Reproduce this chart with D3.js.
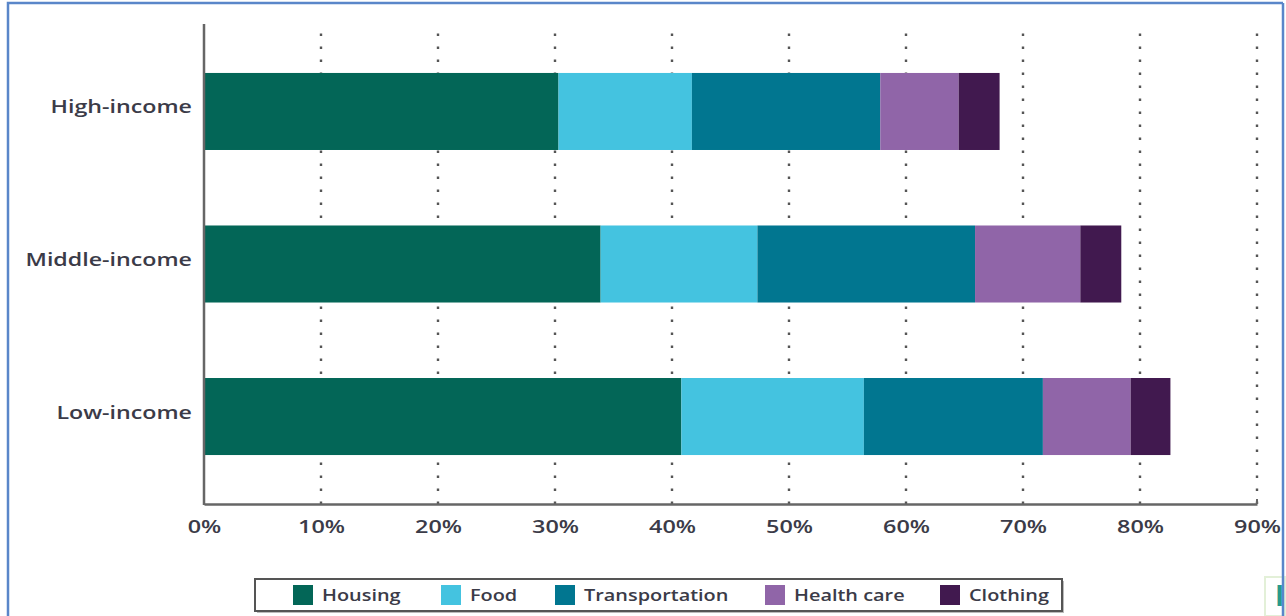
<!DOCTYPE html>
<html>
<head>
<meta charset="utf-8">
<script src="https://cdn.jsdelivr.net/npm/d3@7"></script>
<style>
  html, body { margin: 0; padding: 0; background: #fff; }
  svg { display: block; }
  text { font-family: "Open Sans", "DejaVu Sans", sans-serif; fill: #3b3b48; }
</style>
</head>
<body>
<svg id="chart" width="1286" height="616"></svg>
<script>
// Share of spending by income group (percent of income)
const groups = ["High-income", "Middle-income", "Low-income"];
const categories = ["Housing", "Food", "Transportation", "Health care", "Clothing"];
const housing        = [30.3, 33.9, 40.8];
const food           = [11.4, 13.4, 15.6];
const transportation = [16.1, 18.6, 15.3];
const healthCare     = [6.7, 9.0, 7.5];
const clothing       = [3.5, 3.5, 3.4];
const tickValues = [0, 10, 20, 30, 40, 50, 60, 70, 80, 90];
const tickLabels = ["0%", "10%", "20%", "30%", "40%", "50%", "60%", "70%", "80%", "90%"];
const colors = ["#036657", "#44c3e0", "#017690", "#9065a8", "#41194f"];

const rows = groups.map((g, i) => ({
  group: g,
  "Housing": housing[i],
  "Food": food[i],
  "Transportation": transportation[i],
  "Health care": healthCare[i],
  "Clothing": clothing[i]
}));

const svg = d3.select("#chart");
const plotLeft = 204, plotRight = 1257, plotTop = 24, plotBottom = 504;

const x = d3.scaleLinear().domain([0, 90]).range([plotLeft, plotRight]);
const y = d3.scaleBand().domain(groups).range([plotTop, plotBottom])
  .paddingInner(0.495).paddingOuter(0.321);
const color = d3.scaleOrdinal().domain(categories).range(colors);

// outer frame
svg.append("path")
  .attr("d", "M8,616 L8,3 L1283,3")
  .attr("fill", "none").attr("stroke", "#5a86c9").attr("stroke-width", 2.5);

// dotted vertical gridlines
svg.append("g").selectAll("line")
  .data(tickValues.filter(v => v > 0))
  .join("line")
  .attr("x1", d => x(d)).attr("x2", d => x(d))
  .attr("y1", plotBottom).attr("y2", plotTop)
  .attr("stroke", "#555").attr("stroke-width", 2.4)
  .attr("stroke-dasharray", "2.5,10.5");

// stacked bars
const series = d3.stack().keys(categories)(rows);
svg.append("g").selectAll("g")
  .data(series)
  .join("g")
  .attr("fill", d => color(d.key))
  .selectAll("rect")
  .data(d => d)
  .join("rect")
  .attr("x", d => x(d[0]))
  .attr("width", d => x(d[1]) - x(d[0]))
  .attr("y", d => y(d.data.group))
  .attr("height", y.bandwidth());

// x axis
const xAxis = svg.append("g")
  .attr("transform", `translate(0,${plotBottom})`)
  .call(d3.axisBottom(x).tickValues(tickValues)
    .tickFormat((d, i) => tickLabels[i]).tickSize(0).tickSizeOuter(0).tickPadding(0));
xAxis.select(".domain").attr("stroke", "#666").attr("stroke-width", 2.5);
xAxis.selectAll(".tick text")
  .attr("y", 0).attr("dy", null)
  .attr("transform", "translate(0,29) scale(1.3,1)")
  .attr("font-size", 18).attr("font-weight", 600)
  .attr("fill", "#3b3b48");

// y axis line and end tick
svg.append("line")
  .attr("x1", plotLeft).attr("x2", plotLeft).attr("y1", plotTop).attr("y2", plotBottom + 1)
  .attr("stroke", "#666").attr("stroke-width", 2.5);
svg.append("line")
  .attr("x1", plotRight).attr("x2", plotRight).attr("y1", plotBottom - 5).attr("y2", plotBottom)
  .attr("stroke", "#666").attr("stroke-width", 2);

// group labels
svg.append("g").selectAll("text")
  .data(groups)
  .join("text")
  .attr("transform", d => `translate(192,${y(d) + y.bandwidth() / 2 + 2}) scale(1.29,1)`)
  .attr("text-anchor", "end")
  .attr("font-size", 18).attr("font-weight", 600)
  .text(d => d);

// legend
const legendX = [293, 441, 555, 765, 940];
const legend = svg.append("g");
legend.append("rect")
  .attr("x", 257).attr("y", 581).attr("width", 807).attr("height", 32)
  .attr("fill", "#bbb");
legend.append("rect")
  .attr("x", 255).attr("y", 579).attr("width", 807).attr("height", 32)
  .attr("fill", "#fff").attr("stroke", "#555").attr("stroke-width", 2);
const item = legend.selectAll("g.item")
  .data(categories)
  .join("g").attr("class", "item")
  .attr("transform", (d, i) => `translate(${legendX[i]},585)`);
item.append("rect")
  .attr("width", 20).attr("height", 20)
  .attr("fill", d => color(d));
item.append("text")
  .attr("transform", "translate(29,16) scale(1.17,1)")
  .attr("font-size", 17).attr("font-weight", 600)
  .text(d => d);

// small cut-off badge at the lower right
svg.append("rect")
  .attr("x", 1265).attr("y", 577).attr("width", 20).attr("height", 39)
  .attr("fill", "#fff").attr("stroke", "#e3f0d8").attr("stroke-width", 2);
svg.append("text")
  .attr("x", 1275).attr("y", 606)
  .attr("font-size", 28).attr("font-family", "Liberation Serif, serif")
  .attr("font-weight", 700).style("fill", "#2a9a8a")
  .text("I");
svg.append("line")
  .attr("x1", 1283).attr("x2", 1283).attr("y1", 3).attr("y2", 616)
  .attr("stroke", "#5a86c9").attr("stroke-width", 2.5);
</script>
</body>
</html>
